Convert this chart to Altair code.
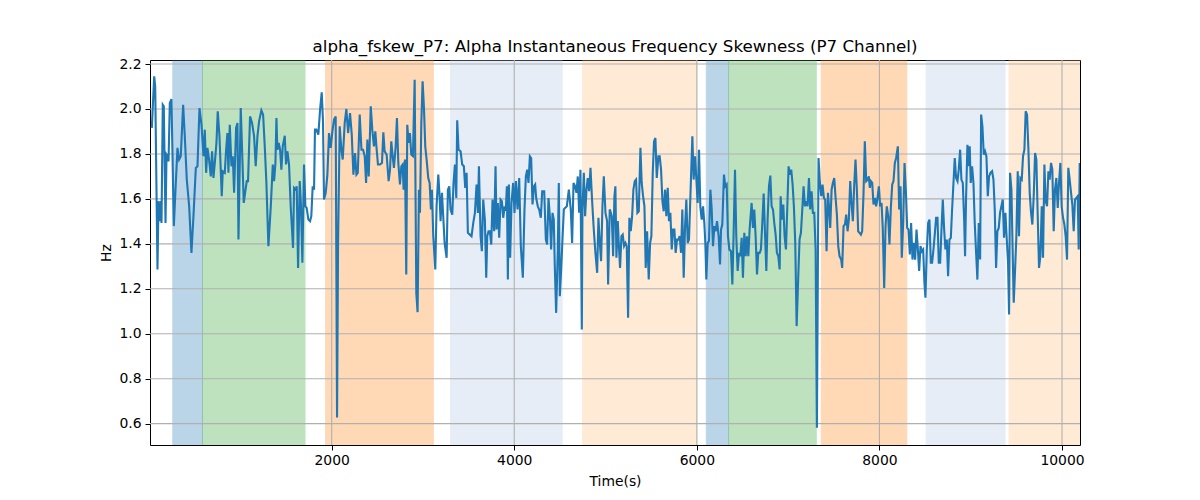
import altair as alt
import pandas as pd

# ---- line data (time in s, value in Hz) ----
t1 = [30, 56, 67, 92, 103, 118, 129, 136, 150, 161,
      180, 191, 202, 213, 227, 245, 271, 286, 311, 329,
      347, 373, 391, 413, 439, 464, 486, 512, 530, 552,
      574, 596, 610, 625, 639, 657, 676, 690, 705, 720,
      738, 752, 771, 796, 807, 829, 844, 858, 869, 884,
      902, 917, 931, 953, 968, 979, 1004, 1022, 1037, 1052,
      1070, 1084, 1106, 1128, 1150, 1168, 1187, 1205, 1230, 1249,
      1267, 1285, 1307, 1333, 1355, 1369, 1384, 1395, 1405, 1420,
      1435, 1449, 1464, 1486, 1500, 1515, 1533, 1551, 1577, 1588,
      1606, 1617, 1632, 1650, 1664, 1679, 1697, 1712, 1726, 1745,
      1763, 1777, 1792, 1807, 1817, 1832, 1854, 1873, 1891, 1905,
      1916, 1935, 1953, 1971, 1989, 2008, 2026, 2044, 2059, 2070,
      2088, 2106, 2121, 2143, 2161, 2180, 2201, 2220, 2238, 2256,
      2271, 2286, 2307, 2326, 2344, 2362, 2377, 2391, 2406, 2428]
v1 = [1.916, 2.145, 2.10, 1.286, 1.590, 1.501, 1.590, 1.493, 2.019, 2.012,
      1.493, 1.797, 1.79, 1.767, 2.027, 2.044, 1.479, 1.612, 1.827, 1.775,
      1.79, 2.019, 1.879, 1.686, 1.567, 1.36, 1.523, 1.738, 1.745, 2.004,
      1.93, 1.79, 1.908, 1.716, 1.827, 1.775, 1.70, 1.812, 1.693, 1.76,
      1.849, 1.99, 1.879, 1.612, 1.723, 1.716, 1.819, 1.893, 1.716, 1.93,
      1.745, 1.79, 1.627, 1.916, 1.938, 1.419, 2.004, 1.775, 1.582, 1.627,
      1.679, 1.679, 1.967, 1.938, 1.879, 1.745, 1.879, 1.945, 1.994, 1.975,
      1.834, 1.671, 1.39, 1.567, 1.753, 1.679, 1.76, 1.96, 1.819, 1.849,
      1.819, 1.73, 1.834, 1.881, 1.753, 1.812, 1.753, 1.567, 1.382, 1.649,
      1.641, 1.656, 1.293, 1.679, 1.567, 1.316, 1.753, 1.567, 1.56, 1.508,
      1.501, 1.523, 1.656, 1.641, 1.908, 1.908, 1.886, 1.997, 2.074, 1.945,
      1.597, 1.627, 1.708, 1.893, 1.827, 1.901, 1.953, 1.967, 0.627, 1.404,
      1.923, 1.819, 1.775, 1.938, 2.0, 1.893, 1.982, 1.886, 1.708, 1.804,
      1.708, 1.716, 1.975, 1.819, 1.819, 1.79, 1.671, 1.864, 1.70, 2.012]

t2 = [2445, 2463, 2478, 2493, 2507, 2529, 2551, 2566, 2580, 2602,
      2624, 2639, 2653, 2668, 2682, 2701, 2715, 2730, 2748, 2763,
      2777, 2788, 2803, 2817, 2828, 2843, 2857, 2872, 2890, 2909,
      2927, 2941, 2956, 2967, 2982, 2996, 3011, 3025, 3040, 3058,
      3073, 3087, 3098, 3113, 3135, 3149, 3168, 3182, 3193, 3208,
      3222, 3237, 3259, 3273, 3288, 3302, 3321, 3335, 3350, 3365,
      3375, 3390, 3412, 3430, 3448, 3463, 3478, 3492, 3514, 3532,
      3551, 3569, 3587, 3602, 3613, 3631, 3645, 3660, 3678, 3693,
      3704, 3718, 3733, 3748, 3762, 3780, 3795, 3806, 3820, 3835,
      3850, 3864, 3879, 3893, 3908, 3919, 3930, 3941, 3955, 3970,
      3988, 4003, 4018, 4036, 4054, 4072, 4094, 4112, 4127, 4142,
      4156, 4171, 4185, 4200, 4215, 4229, 4240, 4258, 4273, 4291,
      4306, 4328, 4346, 4360, 4375, 4390, 4404, 4419, 4433, 4444,
      4459, 4477, 4488, 4499, 4514, 4528, 4543, 4557, 4576, 4598,
      4619, 4634, 4649, 4667, 4681, 4696, 4711, 4725, 4740, 4747,
      4762, 4776, 4791, 4805, 4820, 4835, 4853, 4871, 4889, 4908,
      4922, 4937, 4951, 4966, 4981, 4999, 5017, 5028, 5046]
v2 = [1.908, 1.834, 1.901, 1.819, 1.753, 1.753, 1.76, 1.896, 1.812, 1.797,
      1.679, 1.73, 1.856, 1.79, 1.738, 1.834, 1.96, 1.76, 1.664, 1.745,
      1.753, 1.641, 1.775, 1.264, 1.93, 1.849, 1.893, 1.797, 1.79, 2.13,
      1.182, 1.096, 1.641, 1.538, 1.938, 2.123, 2.004, 1.834, 1.775, 1.693,
      1.671, 1.553, 1.641, 1.434, 1.286, 1.567, 1.708, 1.612, 1.501, 1.627,
      1.523, 1.404, 1.338, 1.641, 1.656, 1.553, 1.53, 1.671, 1.753, 1.604,
      1.95, 1.819, 1.812, 1.753, 1.745, 1.649, 1.716, 1.449, 1.441, 1.434,
      1.493, 1.538, 1.664, 1.538, 1.745, 1.434, 1.367, 1.597, 1.508, 1.249,
      1.434, 1.456, 1.456, 1.397, 1.597, 1.456, 1.745, 1.464, 1.582, 1.427,
      1.597, 1.59, 1.516, 1.56, 1.553, 1.656, 1.241, 1.664, 1.338, 1.582,
      1.671, 1.538, 1.679, 1.553, 1.693, 1.389, 1.249, 1.553, 1.70, 1.73,
      1.671, 1.79, 1.782, 1.575, 1.656, 1.664, 1.604, 1.567, 1.553, 1.516,
      1.634, 1.634, 1.419, 1.397, 1.604, 1.523, 1.375, 1.538, 1.508, 1.301,
      1.093, 1.375, 1.671, 1.167, 1.286, 1.419, 1.553, 1.56, 1.567, 1.641,
      1.553, 1.404, 1.671, 1.656, 1.627, 1.70, 1.538, 1.73, 1.019, 1.553,
      1.716, 1.523, 1.641, 1.693, 1.634, 1.738, 1.59, 1.464, 1.36, 1.271,
      1.516, 1.404, 1.323, 1.567, 1.70, 1.538, 1.501, 1.219, 1.553]

t3 = [5053, 5068, 5083, 5097, 5108, 5119, 5134, 5148, 5159, 5174,
      5188, 5203, 5218, 5232, 5247, 5261, 5276, 5291, 5305, 5320,
      5334, 5349, 5364, 5382, 5396, 5411, 5426, 5440, 5455, 5473,
      5488, 5502, 5517, 5531, 5546, 5561, 5579, 5593, 5608, 5623,
      5637, 5652, 5666, 5681, 5695, 5710, 5725, 5739, 5754, 5768,
      5783, 5798, 5812, 5827, 5841, 5856, 5871, 5885, 5900, 5914,
      5933, 5951, 5965, 5980, 5995, 6009, 6024, 6038, 6053, 6068,
      6082, 6093, 6104, 6119, 6133, 6148, 6162, 6177, 6192, 6206,
      6221, 6239, 6254, 6265, 6279, 6297, 6312, 6327, 6341, 6356,
      6374, 6389, 6403, 6418, 6432, 6447, 6462, 6476, 6491, 6505,
      6520, 6535, 6549, 6564, 6578, 6600, 6615, 6629, 6644, 6659,
      6673, 6688, 6702, 6717, 6732, 6746, 6761, 6775, 6790, 6805,
      6819, 6834, 6848, 6863, 6877, 6892, 6907, 6918, 6932, 6947,
      6961, 6976, 6990, 7005, 7020, 7034, 7049, 7063, 7078, 7093,
      7111, 7125, 7140, 7155, 7169, 7184, 7198, 7213, 7228, 7242,
      7257, 7271, 7286, 7301, 7315, 7333, 7348, 7363, 7377, 7392,
      7406, 7421, 7436, 7450, 7461, 7476, 7490, 7505, 7520, 7534,
      7549, 7563]
v3 = [1.545, 1.523, 1.345, 1.612, 1.656, 1.338, 1.501, 1.375, 1.293, 1.434,
      1.441, 1.39, 1.404, 1.39, 1.071, 1.516, 1.456, 1.523, 1.641, 1.679,
      1.686, 1.538, 1.545, 1.827, 1.671, 1.612, 1.567, 1.293, 1.456, 1.241,
      1.404, 1.434, 1.716, 1.856, 1.871, 1.693, 1.79, 1.79, 1.73, 1.59,
      1.545, 1.641, 1.523, 1.649, 1.501, 1.538, 1.375, 1.464, 1.464, 1.36,
      1.419, 1.419, 1.434, 1.36, 1.553, 1.249, 1.479, 1.597, 1.404, 1.419,
      1.656, 1.879, 1.686, 1.79, 1.686, 1.582, 1.819, 1.567, 1.508, 1.567,
      1.493, 1.404, 1.241, 1.404, 1.412, 1.641, 1.56, 1.39, 1.479, 1.456,
      1.501, 1.434, 1.308, 1.464, 1.486, 1.708, 1.656, 1.664, 1.434, 1.375,
      1.367, 1.219, 1.449, 1.73, 1.434, 1.279, 1.36, 1.345, 1.427, 1.249,
      1.449, 1.345, 1.434, 1.345, 1.464, 1.582, 1.471, 1.553, 1.434, 1.264,
      1.36, 1.36, 1.375, 1.493, 1.624, 1.456, 1.279, 1.508, 1.656, 1.704,
      1.567, 1.553, 1.493, 1.441, 1.36, 1.345, 1.286, 1.612, 1.508, 1.575,
      1.434, 1.375, 1.553, 1.745, 1.708, 1.73, 1.664, 1.567, 1.404, 1.034,
      1.256, 1.419, 1.449, 1.553, 1.656, 1.567, 1.59, 1.567, 1.693, 1.553,
      1.634, 1.538, 1.538, 1.375, 0.582, 1.782, 1.671, 1.612, 1.664, 1.604,
      1.597, 1.367, 1.627, 1.553, 1.471, 1.641, 1.671, 1.693, 1.604, 1.53,
      1.39, 1.345]

t4 = [7581, 7592, 7607, 7622, 7636, 7651, 7665, 7680, 7694, 7709,
      7724, 7738, 7753, 7767, 7782, 7797, 7811, 7826, 7840, 7855,
      7870, 7884, 7895, 7906, 7921, 7935, 7950, 7964, 7979, 7994,
      8008, 8023, 8037, 8052, 8067, 8081, 8096, 8110, 8125, 8140,
      8154, 8169, 8183, 8202, 8216, 8231, 8245, 8260, 8275, 8289,
      8304, 8318, 8333, 8347, 8362, 8377, 8391, 8406, 8420, 8435,
      8450, 8464, 8479, 8493, 8504, 8519, 8534, 8548, 8563, 8577,
      8592, 8606, 8621, 8636, 8650, 8665, 8679, 8694, 8709, 8723,
      8738, 8752, 8767, 8782, 8796, 8811, 8825, 8840, 8855, 8869,
      8884, 8898, 8913, 8928, 8938, 8949, 8964, 8979, 8989, 9000,
      9015, 9030, 9044, 9059, 9073, 9088, 9103, 9114, 9128, 9143,
      9157, 9172, 9187, 9201, 9216, 9234, 9249, 9263, 9278, 9292,
      9307, 9321, 9336, 9351, 9365, 9380, 9394, 9409, 9420, 9431,
      9446, 9456, 9471, 9486, 9500, 9515, 9529, 9544, 9559, 9573,
      9588, 9602, 9617, 9632, 9646, 9661, 9675, 9690, 9705, 9719,
      9734, 9748, 9763, 9778, 9792, 9807, 9821, 9836, 9851, 9865,
      9880, 9894, 9909, 9923, 9938, 9953, 9967, 9982, 9996, 10011,
      10026, 10040, 10055, 10069, 10084, 10099, 10113, 10128, 10142, 10157,
      10172, 10183, 10194]
v4 = [1.330, 1.293, 1.479, 1.486, 1.53, 1.456, 1.508, 1.679, 1.582, 1.501,
      1.664, 1.775, 1.641, 1.456, 1.449, 1.441, 1.456, 1.627, 1.856, 1.679,
      1.686, 1.70, 1.649, 1.679, 1.671, 1.575, 1.604, 1.567, 1.604, 1.656,
      1.567, 1.582, 1.464, 1.204, 1.479, 1.567, 1.523, 1.397, 1.56, 1.664,
      1.679, 1.76, 1.782, 1.834, 1.553, 1.656, 1.338, 1.493, 1.76, 1.641,
      1.471, 1.464, 1.353, 1.493, 1.33, 1.404, 1.33, 1.464, 1.382, 1.279,
      1.39, 1.367, 1.375, 1.227, 1.16, 1.375, 1.493, 1.508, 1.316, 1.316,
      1.375, 1.441, 1.516, 1.516, 1.316, 1.316, 1.456, 1.597, 1.464, 1.375,
      1.419, 1.256, 1.419, 1.427, 1.553, 1.671, 1.782, 1.693, 1.679, 1.73,
      1.819, 1.686, 1.671, 1.508, 1.345, 1.604, 1.841, 1.745, 1.834, 1.671,
      1.745, 1.671, 1.493, 1.36, 1.241, 1.493, 1.33, 1.975, 1.923, 1.797,
      1.812, 1.79, 1.612, 1.70, 1.716, 1.723, 1.686, 1.553, 1.293, 1.456,
      1.471, 1.538, 1.567, 1.597, 1.427, 1.538, 1.427, 1.316, 1.086, 1.716,
      1.641, 1.434, 1.138, 1.286, 1.434, 1.723, 1.434, 1.693, 1.686, 1.79,
      1.819, 1.99, 1.975, 1.819, 1.627, 1.538, 1.486, 1.612, 1.804, 1.775,
      1.523, 1.293, 1.345, 1.567, 1.338, 1.753, 1.59, 1.567, 1.723, 1.686,
      1.76, 1.73, 1.456, 1.641, 1.693, 1.56, 1.671, 1.76, 1.567, 1.516,
      1.486, 1.434, 1.33, 1.738, 1.686, 1.627, 1.575, 1.456, 1.597, 1.604,
      1.612, 1.375, 1.76]

# ---- shaded bands ----
band_start = [260, 585, 1934, 3302, 4750, 6104, 6348, 7363, 8512, 9420]
band_end = [585, 1708, 3113, 4525, 6002, 6348, 7308, 8300, 9376, 10300]
band_color = ["#1f77b4", "#2ca02c", "#ff7f0e", "#aec7e8", "#ffbb78",
              "#1f77b4", "#2ca02c", "#ff7f0e", "#aec7e8", "#ffbb78"]

x_ticks = [2000, 4000, 6000, 8000, 10000]
y_ticks = [0.6, 0.8, 1.0, 1.2, 1.4, 1.6, 1.8, 2.0, 2.2]

line_df = pd.DataFrame({"t": t1 + t2 + t3 + t4, "v": v1 + v2 + v3 + v4})
band_df = pd.DataFrame({"start": band_start, "end": band_end, "color": band_color})
xg_df = pd.DataFrame({"x": x_ticks})
yg_df = pd.DataFrame({"y": y_ticks})

FONT = "DejaVu Sans"
x_scale = alt.Scale(domain=[10, 10197], nice=False, zero=False)
y_scale = alt.Scale(domain=[0.505, 2.218], nice=False, zero=False)

x_axis = alt.Axis(values=x_ticks, format="d", title="Time(s)", grid=False,
                  domain=False, tickColor="black", tickSize=5, tickWidth=1,
                  labelFont=FONT, labelFontSize=13.9, labelColor="black",
                  labelPadding=3, titleFont=FONT, titleFontSize=13.9,
                  titleFontWeight="normal", titleColor="black", titlePadding=8)
y_axis = alt.Axis(values=y_ticks, format=".1f", title="Hz", grid=False,
                  domain=False, tickColor="black", tickSize=5, tickWidth=1,
                  labelFont=FONT, labelFontSize=13.9, labelColor="black",
                  labelPadding=4, titleFont=FONT, titleFontSize=13.9,
                  titleFontWeight="normal", titleColor="black", titlePadding=5)

bands = alt.Chart(band_df).mark_rect(clip=True, opacity=0.3, strokeWidth=1).encode(
    x=alt.X("start:Q", scale=x_scale, axis=x_axis),
    x2="end:Q",
    color=alt.Color("color:N", scale=None),
    stroke=alt.Stroke("color:N", scale=None),
)

xgrid = alt.Chart(xg_df).mark_rule(color="#b0b0b0", strokeWidth=1.1).encode(
    x=alt.X("x:Q", scale=x_scale, axis=x_axis)
)
ygrid = alt.Chart(yg_df).mark_rule(color="#b0b0b0", strokeWidth=1.1).encode(
    y=alt.Y("y:Q", scale=y_scale, axis=y_axis)
)

line = alt.Chart(line_df).mark_line(color="#1f77b4", strokeWidth=2.1, clip=True).encode(
    x=alt.X("t:Q", scale=x_scale, axis=x_axis),
    y=alt.Y("v:Q", scale=y_scale, axis=y_axis),
)

chart = alt.layer(bands, xgrid, ygrid, line).properties(
    width=930,
    height=385,
    autosize=alt.AutoSizeParams(type="none"),
    padding={"left": 142, "top": 52, "right": 100, "bottom": 50},
    title=alt.Title("alpha_fskew_P7: Alpha Instantaneous Frequency Skewness (P7 Channel)",
                    font=FONT, fontSize=16.7, fontWeight="normal", color="black",
                    anchor="middle", baseline="alphabetic", offset=8, dy=20),
).configure_view(stroke="black", strokeWidth=1)

chart.save("out.html", embed_options={"renderer": "svg", "actions": False})
